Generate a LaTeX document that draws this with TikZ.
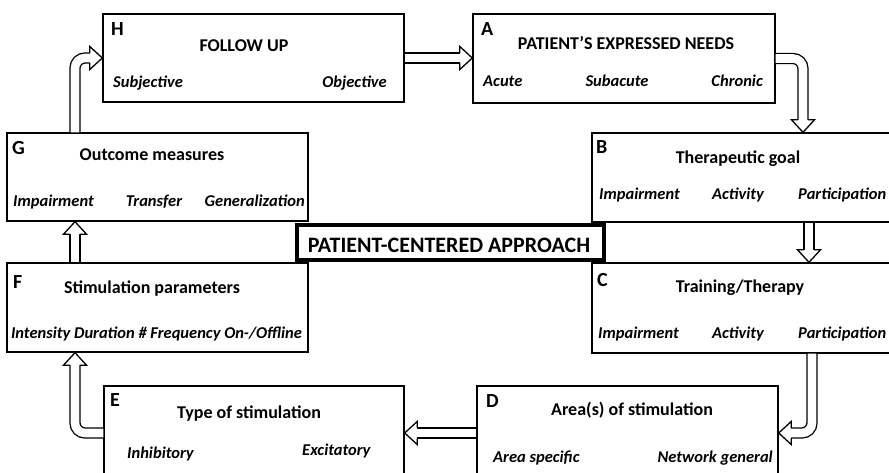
\documentclass[tikz,border=0pt]{standalone}
\usepackage{fontspec}
\setmainfont{Carlito}
\usetikzlibrary{calc}
\tikzset{
  box/.style={draw, line width=1.4pt, rectangle, inner sep=0pt, fill=white},
  pabox/.style={draw, line width=3.4pt, rectangle, inner sep=0pt, fill=white},
  lett/.style={font=\bfseries\fontsize{20}{22}\selectfont, inner sep=0pt},
  ttl/.style={font=\bfseries\fontsize{18}{20}\selectfont, inner sep=0pt},
  patxt/.style={font=\bfseries\fontsize{22}{24}\selectfont, inner sep=0pt},
  itm/.style={font=\bfseries\itshape\fontsize{16.5}{18}\selectfont, inner sep=0pt},
  hshaft/.style={draw, line width=1.3pt, double=white, double distance=8.6pt, rounded corners=10pt},
  pics/hhead/.style={code={
    \fill[white] (-12.5,-5.2) -- (-12.5,-11.5) -- (0,0) -- (-12.5,11.5) -- (-12.5,5.2) -- cycle;
    \draw[line width=1.3pt, line join=miter] (-12.5,-4.9) -- (-12.5,-11.5) -- (0,0) -- (-12.5,11.5) -- (-12.5,4.9);
  }}
}
\begin{document}
\begin{tikzpicture}[x=1pt, y=-1pt]
\clip (0,0) rectangle (889,473);
\fill[white] (0,0) rectangle (889,473);
% boxes
\node[box, minimum width=301pt, minimum height=88pt] (H) at (253.5,58) {};
\node[box, minimum width=302pt, minimum height=89pt] (A) at (624,58.5) {};
\node[box, minimum width=300pt, minimum height=89pt] (B) at (742,177.5) {};
\node[box, minimum width=301pt, minimum height=88pt] (G) at (157.5,177) {};
\node[box, minimum width=301pt, minimum height=89pt] (F) at (157.5,307.5) {};
\node[box, minimum width=300pt, minimum height=90pt] (C) at (742,308) {};
\node[box, minimum width=301pt, minimum height=94pt] (D) at (627.5,433) {};
\node[box, minimum width=300pt, minimum height=94pt] (E) at (254,433) {};
% centre box
\node[pabox, minimum width=307pt, minimum height=35pt] (PA) at (450.5,242.5) {};
\node[patxt, anchor=base] (PAt) at (449,252.5) {PATIENT-CENTERED APPROACH};
% H
\node[lett, anchor=base west] (Hl) at (111,36) {H};
\node[ttl, anchor=base] (Ht) at (244,52) {FOLLOW UP};
\node[itm, anchor=base west] (H1) at (113,88) {Subjective};
\node[itm, anchor=base east] (H2) at (387,88) {Objective};
% A
\node[lett, anchor=base west] (Al) at (481,36) {A};
\node[ttl, anchor=base] (At) at (626,50) {PATIENT’S EXPRESSED NEEDS};
\node[itm, anchor=base west] (A1) at (483,87) {Acute};
\node[itm, anchor=base] (A2) at (617,87) {Subacute};
\node[itm, anchor=base east] (A3) at (763,87) {Chronic};
% B
\node[lett, anchor=base west] (Bl) at (596,154) {B};
\node[ttl, anchor=base] (Bt) at (738,164) {Therapeutic goal};
\node[itm, anchor=base west] (B1) at (599,200) {Impairment};
\node[itm, anchor=base] (B2) at (738,200) {Activity};
\node[itm, anchor=base west] (B3) at (798,200) {Participation};
% G
\node[lett, anchor=base west] (Gl) at (12,155) {G};
\node[ttl, anchor=base] (Gt) at (152,161) {Outcome measures};
\node[itm, anchor=base west] (G1) at (13,207) {Impairment};
\node[itm, anchor=base] (G2) at (154,207) {Transfer};
\node[itm, anchor=base east] (G3) at (305,207) {Generalization};
% F
\node[lett, anchor=base west] (Fl) at (13,288) {F};
\node[ttl, anchor=base] (Ft) at (152,293) {Stimulation parameters};
\node[itm, anchor=base] (F1) at (156.5,338) {Intensity Duration \# Frequency On-/Offline};
% C
\node[lett, anchor=base west] (Cl) at (597,287) {C};
\node[ttl, anchor=base] (Ct) at (740,292) {Training/Therapy};
\node[itm, anchor=base west] (C1) at (598,338) {Impairment};
\node[itm, anchor=base] (C2) at (738,338) {Activity};
\node[itm, anchor=base west] (C3) at (798,338) {Participation};
% D
\node[lett, anchor=base west] (Dl) at (486,407) {D};
\node[ttl, anchor=base] (Dt) at (632,415) {Area(s) of stimulation};
\node[itm, anchor=base west] (D1) at (493,462) {Area specific};
\node[itm, anchor=base east] (D2) at (773,462) {Network general};
% E
\node[lett, anchor=base west] (El) at (110,406) {E};
\node[ttl, anchor=base] (Et) at (249,418) {Type of stimulation};
\node[itm, anchor=base west] (E1) at (127,458) {Inhibitory};
\node[itm, anchor=base west] (E2) at (302,455) {Excitatory};
% arrow guide coordinates
\coordinate (abx) at (803,0);
\coordinate (bcx) at (809,0);
\coordinate (cdx) at (812,0);
\coordinate (lx) at (75,0);
% H -> A
\draw[hshaft] (H.east) -- ([xshift=-12pt]A.west |- H.east);
\pic at (A.west |- H.east) {hhead};
% A -> B
\draw[hshaft] (A.east) -| ([yshift=12pt]B.north -| abx);
\pic[rotate=270] at (B.north -| abx) {hhead};
% B -> C
\draw[hshaft] (B.south -| bcx) -- ([yshift=12pt]C.north -| bcx);
\pic[rotate=270] at (C.north -| bcx) {hhead};
% C -> D
\draw[hshaft] (C.south -| cdx) |- ([xshift=12pt]D.east);
\pic[rotate=180] at (D.east) {hhead};
% D -> E
\draw[hshaft] (D.west) -- ([xshift=12pt]E.east);
\pic[rotate=180] at (E.east) {hhead};
% E -> F
\draw[hshaft] (E.west) -| ([yshift=-12pt]F.south -| lx);
\pic[rotate=90] at (F.south -| lx) {hhead};
% F -> G
\draw[hshaft] (F.north -| lx) -- ([yshift=-12pt]G.south -| lx);
\pic[rotate=90] at (G.south -| lx) {hhead};
% G -> H
\draw[hshaft] (G.north -| lx) |- ([xshift=-12pt]H.west);
\pic at (H.west) {hhead};
\end{tikzpicture}
\end{document}
